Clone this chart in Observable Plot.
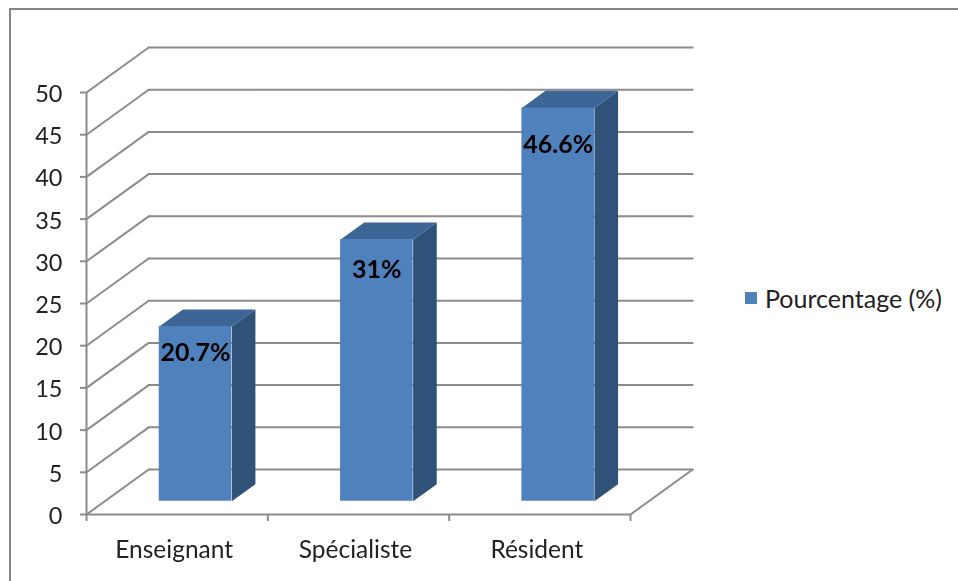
<!DOCTYPE html>
<html lang="fr">
<head>
<meta charset="utf-8">
<script src="https://cdn.jsdelivr.net/npm/d3@7"></script>
<script src="https://cdn.jsdelivr.net/npm/@observablehq/plot@0.6"></script>
<style>
  html, body { margin: 0; padding: 0; background: #fff; overflow: hidden; }
  #wrap { position: relative; width: 958px; height: 581px; font-family: Lato, sans-serif; }
  #frame { position: absolute; left: 9px; top: 8px; right: -4px; bottom: -4px;
           border-left: 2px solid #868686; border-top: 2px solid #868686; }
  #chart { position: absolute; left: 0; top: 0; }
  #chart svg { filter: blur(0.45px); }
  #legend { position: absolute; left: 745px; top: 284px; display: flex; align-items: center;
            gap: 8px; font-size: 25px; color: #222; line-height: 28px; white-space: nowrap; }
  #legend i { display: block; width: 12px; height: 12px; background: #4f81bd; }
</style>
</head>
<body>
<div id="wrap">
  <div id="frame"></div>
  <div id="chart"></div>
  <div id="legend"><i></i><span id="legend-label"></span></div>
</div>
<script>
const categories = ["Enseignant", "Spécialiste", "Résident"];
const percentages = [20.7, 31, 46.6];
const valueLabels = ["20.7%", "31%", "46.6%"];
const yTicks = [0, 5, 10, 15, 20, 25, 30, 35, 40, 45, 50];
const xTicks = [0, 1, 2, 3];
const seriesName = "Pourcentage (%)";

// Oblique projection, in data units: the back wall is shifted by this much.
const depthX = 0.343, depthY = 5.33;
const barWidth = 0.4, barDepthFront = 0.295, barDepthBack = 0.675;
const COL_FRONT = "#4f81bd", COL_TOP = "#3c6494", COL_SIDE = "#2f5279", COL_GRID = "#8c8c8c";

const px = (i, d) => i + d * depthX;
const py = (v, d) => v + d * depthY;

const wallDiagonals = yTicks.map(v => ({v, pts: [[0, v], [depthX, py(v, 1)]]}))
  .concat([{v: "r", pts: [[3, 0], [3 + depthX, depthY]]}]);
const wallRows = wallDiagonals.flatMap(({v, pts}) => pts.map(([x, y]) => ({x, y, z: v})));
const backRows = yTicks.flatMap(v => [
  {x: depthX, y: py(v, 1), z: v},
  {x: 3 + depthX, y: py(v, 1), z: v}
]);

const bars = categories.map((c, i) => {
  const cx = i + 0.5;
  return {c, v: percentages[i], x1: cx - barWidth / 2, x2: cx + barWidth / 2};
});
const sideRows = bars.flatMap(b => [
  [b.x2, 0, barDepthFront], [b.x2, 0, barDepthBack],
  [b.x2, b.v, barDepthBack], [b.x2, b.v, barDepthFront]
].map(([x, v, d]) => ({x: px(x, d), y: py(v, d), z: b.c})));
const topRows = bars.flatMap(b => [
  [b.x1, barDepthFront], [b.x2, barDepthFront],
  [b.x2, barDepthBack], [b.x1, barDepthBack]
].map(([x, d]) => ({x: px(x, d), y: py(b.v, d), z: b.c})));
const fronts = bars.map(b => ({
  x1: px(b.x1, barDepthFront), x2: px(b.x2, barDepthFront),
  y1: py(0, barDepthFront), y2: py(b.v, barDepthFront)
}));
const labels = bars.map((b, i) => ({
  t: valueLabels[i],
  x: px((b.x1 + b.x2) / 2, barDepthFront),
  y: py(b.v * 0.95, barDepthFront) - 2.1
}));

const chart = Plot.plot({
  width: 958, height: 581,
  marginLeft: 86, marginRight: 328, marginTop: 92, marginBottom: 67,
  style: {background: "transparent", fontFamily: "Lato, sans-serif", overflow: "visible"},
  x: {domain: [0, 3], axis: null},
  y: {domain: [0, 50], axis: null},
  marks: [
    Plot.line(wallRows, {x: "x", y: "y", z: "z", stroke: COL_GRID, strokeWidth: 2}),
    Plot.line(backRows, {x: "x", y: "y", z: "z", stroke: COL_GRID, strokeWidth: 2}),
    Plot.ruleX([0], {stroke: COL_GRID, strokeWidth: 2}),
    Plot.ruleY([0], {stroke: COL_GRID, strokeWidth: 2}),
    Plot.axisY({ticks: yTicks, tickSize: 6, tickFormat: () => "", stroke: COL_GRID, strokeWidth: 2, label: null}),
    Plot.axisX({ticks: xTicks, tickSize: 7, tickFormat: () => "", stroke: COL_GRID, strokeWidth: 2, label: null}),
    Plot.text(yTicks, {x: 0, y: d => d, text: d => String(d), dx: -24, dy: 2, textAnchor: "end",
                fontSize: 23.5, fill: "#222"}),
    Plot.text(categories, {x: (d, i) => i + 0.5, y: 0, text: d => d, dx: -3, dy: 36,
                fontSize: 24.5, fill: "#222"}),
    Plot.line(sideRows, {x: "x", y: "y", z: "z", fill: COL_SIDE, stroke: null}),
    Plot.line(topRows, {x: "x", y: "y", z: "z", fill: COL_TOP, stroke: null}),
    Plot.rect(fronts, {x1: "x1", x2: "x2", y1: "y1", y2: "y2", fill: COL_FRONT}),
    Plot.text(labels, {x: "x", y: "y", text: "t", fontSize: 25, fontWeight: 700, fill: "#000"})
  ]
});
document.getElementById("chart").append(chart);
document.getElementById("legend-label").textContent = seriesName;
</script>
</body>
</html>
